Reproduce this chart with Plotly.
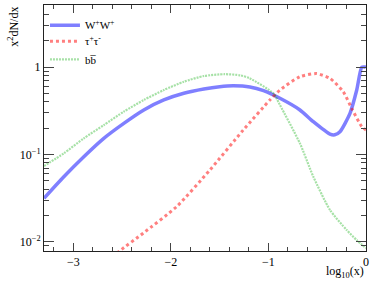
import plotly.graph_objects as go

# ---- data ----
x_ww = [-3.3, -3.097, -2.892, -2.687, -2.482, -2.277, -2.072, -1.867, -1.662, -1.5, -1.36, -1.19, -1.05, -0.882,
        -0.677, -0.54, -0.369, -0.32, -0.267, -0.164, -0.095, -0.044, -0.01, 0.0]
y_ww = [0.0316, 0.0557, 0.0944, 0.1531, 0.227, 0.323, 0.420, 0.501, 0.561, 0.596, 0.610, 0.592, 0.537, 0.439,
        0.323, 0.237, 0.171, 0.168, 0.182, 0.295, 0.546, 0.99, 1.0, 0.977]

x_tau = [-2.6, -2.523, -2.284, -1.942, -1.60, -1.258, -0.985, -0.882, -0.677, -0.506, -0.369, -0.233, -0.147, -0.044, 0.0]
y_tau = [0.00676, 0.00794, 0.0126, 0.0253, 0.0665, 0.1905, 0.420, 0.546, 0.776, 0.841, 0.741, 0.522, 0.337, 0.209, 0.19]

x_bb = [-3.3, -3.097, -2.892, -2.687, -2.482, -2.277, -2.072, -1.867, -1.662, -1.45, -1.29, -1.19, -0.95, -0.882,
        -0.677, -0.54, -0.369, -0.198, -0.095, 0.0]
y_bb = [0.0740, 0.103, 0.1531, 0.217, 0.309, 0.420, 0.546, 0.679, 0.789, 0.828, 0.804, 0.741, 0.501, 0.368,
        0.134, 0.0558, 0.0232, 0.0137, 0.0105, 0.00851]

names = ["W<sup>+</sup>W<sup>+</sup>", "τ<sup>+</sup>τ<sup>-</sup>", "bb\u0305"]

x_ticks = [-3, -2, -1, 0]
x_ticktext = ["\u22123", "\u22122", "\u22121", "0"]
y_ticks = [0.01, 0.1, 1]
y_ticktext = ["10<sup>\u22122</sup>", "10<sup>\u22121</sup>", "1"]

FONT = "Liberation Serif"

fig = go.Figure()
fig.add_trace(go.Scatter(x=x_ww, y=y_ww, mode="lines", name=names[0], legend="legend",
                         line=dict(color="rgba(0,0,255,0.5)", width=3.5, shape="spline", smoothing=0.6)))
fig.add_trace(go.Scatter(x=x_tau, y=y_tau, mode="lines", name=names[1], legend="legend2",
                         line=dict(color="rgba(255,0,0,0.5)", width=3, dash="dot", shape="spline", smoothing=0.6)))
fig.add_trace(go.Scatter(x=x_bb, y=y_bb, mode="lines", name=names[2], legend="legend3",
                         line=dict(color="rgba(0,170,0,0.35)", width=2.2, dash="2px,1px", shape="spline", smoothing=0.6)))

y_minor = [m * 10.0 ** k for k in range(-3, 1) for m in range(2, 10)]
x_minor = [round(-3.2 + 0.2 * i, 2) for i in range(17)]

axis_common = dict(showline=True, linecolor="#222", linewidth=1, mirror="allticks",
                   ticks="inside", tickcolor="#444", showgrid=False, zeroline=False, automargin=False,
                   tickfont=dict(family=FONT, size=12, color="black"))


def leg(yc):
    return dict(x=0.003, y=yc, xanchor="left", yanchor="middle", bgcolor="rgba(0,0,0,0)",
                font=dict(family=FONT, size=11, color="black"))


fig.update_layout(
    width=374, height=286,
    margin=dict(l=44, r=8, t=5, b=35),
    paper_bgcolor="white", plot_bgcolor="white",
    font=dict(family=FONT, size=12, color="black"),
    xaxis=dict(range=[-3.3, 0], tickmode="array", tickvals=x_ticks, ticktext=x_ticktext,
               ticklen=8, tickwidth=1,
               minor=dict(tickmode="array", tickvals=x_minor, ticks="inside", ticklen=4, tickcolor="#444"),
               **axis_common),
    yaxis=dict(type="log", range=[-2.103, 0.709], tickmode="array", tickvals=y_ticks, ticktext=y_ticktext,
               ticklen=10, tickwidth=1,
               minor=dict(tickmode="array", tickvals=y_minor, ticks="inside", ticklen=5, tickcolor="#444"),
               **axis_common),
    showlegend=True,
    legend=leg(0.918),
    legend2=leg(0.853),
    legend3=leg(0.779),
    annotations=[
        dict(text="x<sup>2</sup>dN/dx", xref="paper", yref="paper", x=-0.097, y=1.0,
             xanchor="center", yanchor="top", textangle=-90, showarrow=False,
             font=dict(family=FONT, size=12, color="black")),
        dict(text="log<sub>10</sub>(x)", xref="paper", yref="paper", x=1.0, y=-0.085,
             xanchor="right", yanchor="middle", showarrow=False,
             font=dict(family=FONT, size=12, color="black")),
    ],
)

fig.write_html("out.html", config={"displayModeBar": False},
               post_script="document.body.style.margin='0px';")
